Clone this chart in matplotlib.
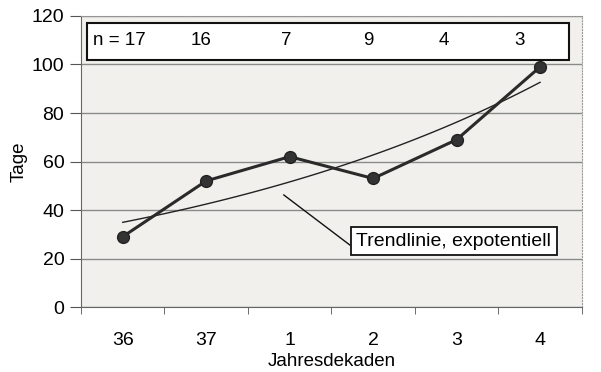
import numpy as np
import matplotlib.pyplot as plt

plt.rcParams["font.family"] = ["Liberation Sans", "DejaVu Sans"]

# Data
decades = ["36", "37", "1", "2", "3", "4"]
days = [29, 52, 62, 53, 69, 99]
n_counts = ["n = 17", "16", "7", "9", "4", "3"]

x = np.arange(len(decades))

# exponential trend line fitted to the data
b, a = np.polyfit(x, np.log(days), 1)
xt = np.linspace(x[0], x[-1], 100)
trend = np.exp(a + b * xt)

fig = plt.figure(figsize=(6.01, 3.72), dpi=100)
ax = fig.add_axes([0.1348, 0.1747, 0.8332, 0.7823])
ax.set_facecolor("#f1f0ed")

ax.set_xlim(-0.5, len(decades) - 0.5)
ax.set_ylim(0, 120)
ax.set_yticks(range(0, 121, 20))
ax.yaxis.grid(True, color="#8a8a8a", linewidth=1.0)
ax.set_axisbelow(True)

ax.plot(xt, trend, color="#222222", linewidth=1.0, zorder=3)
ax.plot(x, days, color="#2a2a2a", linewidth=2.2, marker="o",
        markersize=8.5, markerfacecolor="#333333", markeredgecolor="#222222",
        zorder=4)

ax.set_xticks(x)
ax.set_xticklabels(decades)
ax.set_xticks(np.arange(-0.5, len(decades), 1.0), minor=True)
ax.tick_params(axis="x", which="major", length=0, pad=18, labelsize=14)
ax.tick_params(axis="x", which="minor", length=5, direction="out", color="#555555")
ax.tick_params(axis="y", length=8, direction="out", labelsize=14, pad=4,
               color="#555555")

for side in ["top", "right"]:
    ax.spines[side].set_linestyle(":")
    ax.spines[side].set_color("#999999")
ax.spines["left"].set_color("#666666")
ax.spines["left"].set_linestyle((0, (2, 1)))
ax.spines["bottom"].set_color("#666666")

ax.set_xlabel("Jahresdekaden", fontsize=13.5, labelpad=3)
ax.set_ylabel("Tage", fontsize=13.5, labelpad=3)

# n box
box = plt.Rectangle((0.012, 0.849), 0.962, 0.127, transform=ax.transAxes,
                    facecolor="white", edgecolor="#111111", linewidth=1.5, zorder=5)
ax.add_patch(box)
n_x = [-0.36, 0.934, 1.964, 2.946, 3.844, 4.754]
n_ha = ["left", "center", "center", "center", "center", "center"]
for lab, nx, ha in zip(n_counts, n_x, n_ha):
    ax.text(nx, 109.7, lab, ha=ha, va="center", fontsize=13.5, zorder=6)

# trend annotation
ax.plot([1.93, 2.72], [46.2, 25.6], color="#111111", linewidth=1.0, zorder=5)
ax.text(2.80, 27.2, "Trendlinie, expotentiell", fontsize=14,
        ha="left", va="center", zorder=6,
        bbox=dict(boxstyle="square,pad=0.3", facecolor="white",
                  edgecolor="#111111", linewidth=1.3))

fig.savefig("out.png", dpi=100)
